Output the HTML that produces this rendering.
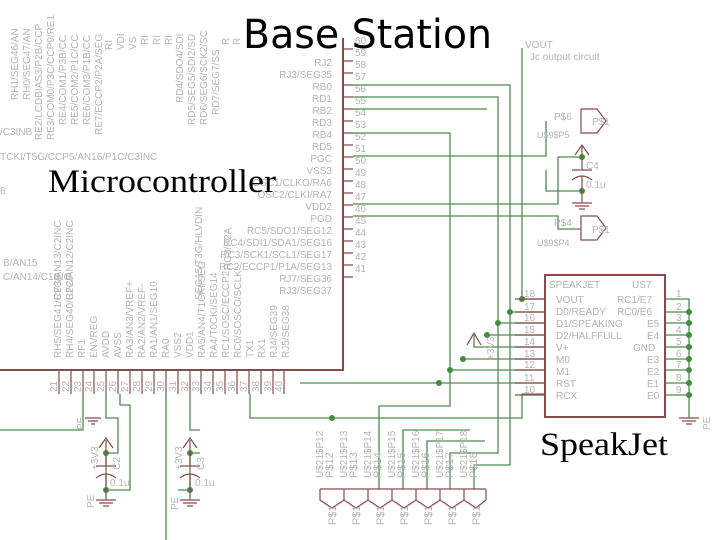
<!DOCTYPE html>
<html><head><meta charset="utf-8"><style>
html,body{margin:0;padding:0;background:#fff;}
svg{display:block;}
.g{fill:#b4b4b4;font-family:"Liberation Sans",sans-serif;font-size:10px;}
.w{stroke:#4f8a4f;stroke-width:1.3;fill:none;}
.r{stroke:#8a4a4a;stroke-width:2;fill:none;}
.p{stroke:#8a4a4a;stroke-width:1.2;fill:none;}
.d{fill:#3f8f3f;}
</style></head><body>
<svg width="720" height="540" viewBox="0 0 720 540" xmlns="http://www.w3.org/2000/svg">
<!-- MCU box -->
<path class="r" d="M343,38 V370 H0"/>
<!-- right pins 60..41 -->
<g class="p">
<path d="M343,49H353M343,61H353M343,73H353M343,85H353M343,97H353M343,109H353M343,121H353M343,133H353M343,145H353M343,157H353M343,169H353M343,181H353M343,193H353M343,205H353M343,217H353M343,229H353M343,241H353M343,253H353M343,265H353M343,277H353"/>
</g>
<g class="g" font-size="10">
<text x="355" y="44">60</text><text x="355" y="56">59</text><text x="355" y="68">58</text><text x="355" y="80">57</text><text x="355" y="92">56</text><text x="355" y="104">55</text><text x="355" y="116">54</text><text x="355" y="128">53</text><text x="355" y="140">52</text><text x="355" y="152">51</text><text x="355" y="164">50</text><text x="355" y="176">49</text><text x="355" y="188">48</text><text x="355" y="200">47</text><text x="355" y="212">46</text><text x="355" y="224">45</text><text x="355" y="236">44</text><text x="355" y="248">43</text><text x="355" y="260">42</text><text x="355" y="272">41</text>
</g>
<g class="g" text-anchor="end" font-size="11">
<text x="332" y="66">RJ2</text><text x="332" y="78">RJ3/SEG35</text><text x="332" y="90">RB0</text><text x="332" y="102">RD1</text><text x="332" y="114">RB2</text><text x="332" y="126">RD3</text><text x="332" y="138">RB4</text><text x="332" y="150">RD5</text><text x="332" y="162">PGC</text><text x="332" y="174">VSS3</text><text x="332" y="186">OSC1/CLKO/RA6</text><text x="332" y="198">OSC2/CLKI/RA7</text><text x="332" y="210">VDD2</text><text x="332" y="222">PGD</text><text x="332" y="234">RC5/SDO1/SEG12</text><text x="332" y="246">RC4/SDI1/SDA1/SEG16</text><text x="332" y="258">RC3/SCK1/SCL1/SEG17</text><text x="332" y="270">RC2/ECCP1/P1A/SEG13</text><text x="332" y="282">RJ7/SEG36</text><text x="332" y="294">RJ3/SEG37</text>
</g>
<!-- left side labels -->
<g class="g" font-size="11">
<text x="0" y="135">/C3INB</text>
<text x="0" y="160">TCKI/T5G/CCP5/AN16/P1C/C3INC</text>
<text x="0" y="194">6</text>
<text x="3" y="266">B/AN15</text>
<text x="3" y="280">C/AN14/C1INC</text>
</g>
<!-- top rotated labels -->
<g class="g" font-size="10">
<text transform="translate(18,100) rotate(-90)">RH1/SEG46/AN</text>
<text transform="translate(30,100) rotate(-90)">RH0/SEG47/AN</text>
<text transform="translate(42,140) rotate(-90)">RE2/LCDBIAS3/P2B/CCP</text>
<text transform="translate(54,140) rotate(-90)">RE3/COM0/P3C/CCP9/RE1</text>
<text transform="translate(66,125) rotate(-90)">RE4/COM1/P3B/CC</text>
<text transform="translate(78,125) rotate(-90)">RE5/COM2/P1C/CC</text>
<text transform="translate(90,125) rotate(-90)">RE6/COM3/P1B/CC</text>
<text transform="translate(102,135) rotate(-90)">RE7/ECCP2/P2A/SEG</text>
<text transform="translate(112,50) rotate(-90)">RI</text>
<text transform="translate(124,50) rotate(-90)">VDI</text>
<text transform="translate(136,50) rotate(-90)">VS</text>
<text transform="translate(148,45) rotate(-90)">RI</text>
<text transform="translate(160,45) rotate(-90)">RI</text>
<text transform="translate(172,45) rotate(-90)">RI</text>
<text transform="translate(183,103) rotate(-90)">RD4/SDO4/SDI</text>
<text transform="translate(195,125) rotate(-90)">RD5/SEG5/SDI2/SD</text>
<text transform="translate(207,125) rotate(-90)">RD6/SEG6/SCK2/SC</text>
<text transform="translate(219,115) rotate(-90)">RD7/SEG7/SS</text>
<text transform="translate(229,45) rotate(-90)">R</text>
<text transform="translate(240,45) rotate(-90)">R</text>
<text transform="translate(61,300) rotate(-90)">RF3/AN13/C2INC</text>
<text transform="translate(73,300) rotate(-90)">RF2/AN12/C2INC</text>
<text transform="translate(202,300) rotate(-90)">SEG15/T3G/HLVDIN</text>
<text transform="translate(231,270) rotate(-90)">RG3/P2A</text>
</g>
<!-- bottom pins -->
<g class="p">
<path d="M59,370V394M71,370V394M83,370V394M94,370V394M106,370V394M118,370V394M130,370V394M142,370V394M154,370V394M166,370V394M178,370V394M190,370V394M201,370V394M213,370V394M225,370V394M237,370V394M249,370V394M261,370V394M273,370V394M284,370V394"/>
</g>
<g class="g" font-size="10">
<text transform="translate(57,392) rotate(-90)">21</text><text transform="translate(69,392) rotate(-90)">22</text><text transform="translate(81,392) rotate(-90)">23</text><text transform="translate(92,392) rotate(-90)">24</text><text transform="translate(104,392) rotate(-90)">25</text><text transform="translate(116,392) rotate(-90)">26</text><text transform="translate(128,392) rotate(-90)">27</text><text transform="translate(140,392) rotate(-90)">28</text><text transform="translate(152,392) rotate(-90)">29</text><text transform="translate(164,392) rotate(-90)">30</text><text transform="translate(176,392) rotate(-90)">31</text><text transform="translate(188,392) rotate(-90)">32</text><text transform="translate(199,392) rotate(-90)">33</text><text transform="translate(211,392) rotate(-90)">34</text><text transform="translate(223,392) rotate(-90)">35</text><text transform="translate(235,392) rotate(-90)">36</text><text transform="translate(247,392) rotate(-90)">37</text><text transform="translate(259,392) rotate(-90)">38</text><text transform="translate(271,392) rotate(-90)">39</text><text transform="translate(282,392) rotate(-90)">40</text>
</g>
<g class="g" font-size="10">
<text transform="translate(61,358) rotate(-90)">RH5/SEG41/C2CF</text>
<text transform="translate(73,358) rotate(-90)">RH4/SEG40/C2CF</text>
<text transform="translate(85,358) rotate(-90)">RF1</text>
<text transform="translate(97,358) rotate(-90)">ENVREG</text>
<text transform="translate(109,358) rotate(-90)">AVDD</text>
<text transform="translate(121,358) rotate(-90)">AVSS</text>
<text transform="translate(133,358) rotate(-90)">RA3/AN3/VREF+</text>
<text transform="translate(145,358) rotate(-90)">RA2/AN2/VREF-</text>
<text transform="translate(157,358) rotate(-90)">RA1/AN1/SEG10</text>
<text transform="translate(169,358) rotate(-90)">RA0</text>
<text transform="translate(181,358) rotate(-90)">VSS2</text>
<text transform="translate(193,358) rotate(-90)">VDD1</text>
<text transform="translate(205,358) rotate(-90)">RA5/AN4/T1CKI/SEG</text>
<text transform="translate(217,358) rotate(-90)">RA4/T0CKI/SEG14</text>
<text transform="translate(229,358) rotate(-90)">RC1/SOSC/ECCP2</text>
<text transform="translate(241,358) rotate(-90)">RC0/SOSCO/SCLK</text>
<text transform="translate(253,358) rotate(-90)">TX1</text>
<text transform="translate(265,358) rotate(-90)">RX1</text>
<text transform="translate(277,358) rotate(-90)">RJ4/SEG39</text>
<text transform="translate(289,358) rotate(-90)">RJ5/SEG38</text>
</g>
<!-- green wires -->
<g class="w">
<path d="M83,394V430H0"/>
<path d="M106,394V418H118V453H106"/>
<path d="M120,394V405H130V490H106"/>
<path d="M166,394V540"/>
<path d="M190,394V430H200"/>
<path d="M190,453H200M178,490H190"/>
<path d="M250,394V418H522V394H545"/>
<path d="M353,85H510V465H474V489"/>
<path d="M353,97H498V453H450V489"/>
<path d="M353,109H487"/>
<path d="M353,133H450V406H379V489"/>
<path d="M522,48V299H545"/>
<path d="M353,156H546V121"/>
<path d="M546,170V191H582"/>
<path d="M353,204H558V157H582"/>
<path d="M353,216H558V229H581"/>
<path d="M510,312H545M498,323H545M487,335H545M474,335V347H545M463,359H545M450,370H545M300,383H545"/>
<path d="M403,489V430H470M427,489V441H485"/>
<path d="M665,299H689V418M665,312H689M665,323H689M665,335H689M665,347H689M665,359H689M665,370H689M665,383H689M665,395H689"/>
<path d="M106,453V490M190,453V490"/>
</g>
<g class="d">
<circle cx="106" cy="453" r="3"/><circle cx="106" cy="490" r="3"/>
<circle cx="190" cy="453" r="3"/><circle cx="190" cy="490" r="3"/>
<circle cx="332" cy="418" r="3"/>
<circle cx="582" cy="157" r="3"/><circle cx="582" cy="191" r="3"/>
<circle cx="522" cy="299" r="3"/><circle cx="510" cy="312" r="3"/><circle cx="498" cy="323" r="3"/><circle cx="487" cy="335" r="3"/><circle cx="463" cy="359" r="3"/><circle cx="450" cy="370" r="3"/><circle cx="439" cy="383" r="3"/>
<circle cx="689" cy="312" r="3"/><circle cx="689" cy="323" r="3"/><circle cx="689" cy="335" r="3"/><circle cx="689" cy="347" r="3"/><circle cx="689" cy="359" r="3"/><circle cx="689" cy="370" r="3"/><circle cx="689" cy="383" r="3"/><circle cx="689" cy="395" r="3"/>
</g>
<!-- capacitors, supply arrows, grounds -->
<g class="p" stroke-width="2">
<path d="M106,440V466M96,466H116M96,478Q106,470 116,478M106,474V500M96,500H116M99,503H113M103,506H109"/>
<path d="M99,448L106,438L113,448"/>
<path d="M190,440V466M180,466H200M180,478Q190,470 200,478M190,474V500M180,500H200M183,503H197M187,506H193"/>
<path d="M183,448L190,438L197,448"/>
<path d="M85,418H101M88,421H98M91,424H95"/>
<path d="M582,145V170M572,170H592M572,180Q582,172 592,180M582,176V203M572,203H592M575,206H589M579,209H585"/>
<path d="M575,155L582,145L589,155"/>
<path d="M467,345L474,333L481,345"/>
<path d="M679,418H699M682,421H696M686,424H692"/>
<path d="M581,109H597L606,121L597,133H581Z"/>
<path d="M581,216H597L606,228L597,240H581Z"/>
</g>
<g class="g" font-size="11">
<text x="586" y="169">C4</text><text x="586" y="188">0.1u</text>
<text x="554" y="120">P$6</text><text x="537" y="138" font-size="9">U$9$P5</text>
<text x="554" y="226">P$4</text><text x="537" y="246" font-size="9">U$9$P4</text>
<text x="592" y="125">P$1</text><text x="592" y="233">P$1</text>
<text x="525" y="48">VOUT</text><text x="530" y="60">Jc output circuit</text>
<text transform="translate(120,470) rotate(-90)">C2</text><text x="110" y="486">0.1u</text>
<text transform="translate(204,470) rotate(-90)">C3</text><text x="195" y="486">0.1u</text>
<text transform="translate(98,470) rotate(-90)">+3V3</text>
<text transform="translate(182,470) rotate(-90)">+3V3</text>
<text transform="translate(84,430) rotate(-90)">PE</text>
<text transform="translate(94,508) rotate(-90)">PE</text>
<text transform="translate(178,510) rotate(-90)">PE</text>
<text transform="translate(494,360) rotate(-90)">+3V3</text>
<text transform="translate(710,430) rotate(-90)">PE</text>
</g>
<!-- SpeakJet -->
<rect x="545" y="275" width="120" height="142" class="r"/>
<g class="p"><path d="M515,299H545M515,312H545M515,323H545M515,335H545M515,347H545M515,359H545M515,370H545M515,383H545M515,395H545"/></g>
<g class="g" font-size="11">
<text x="549" y="288">SPEAKJET</text><text x="632" y="288">US7</text>
<text x="556" y="303">VOUT</text><text x="617" y="303">RC1/E7</text>
<text x="556" y="315">D0/READY</text><text x="617" y="315">RC0/E6</text>
<text x="556" y="327">D1/SPEAKING</text><text x="647" y="327">E5</text>
<text x="556" y="339">D2/HALFFULL</text><text x="647" y="339">E4</text>
<text x="556" y="351">V+</text><text x="633" y="351">GND</text>
<text x="556" y="363">M0</text><text x="647" y="363">E3</text>
<text x="556" y="375">M1</text><text x="647" y="375">E2</text>
<text x="556" y="387">RST</text><text x="647" y="387">E1</text>
<text x="556" y="399">RCX</text><text x="647" y="399">E0</text>
<text x="524" y="297">18</text><text x="524" y="310">17</text><text x="524" y="321">16</text><text x="524" y="333">15</text><text x="524" y="345">14</text><text x="524" y="357">13</text><text x="524" y="368">12</text><text x="524" y="381">11</text><text x="524" y="393">10</text>
<text x="676" y="297">1</text><text x="676" y="310">2</text><text x="676" y="321">3</text><text x="676" y="333">4</text><text x="676" y="345">5</text><text x="676" y="357">6</text><text x="676" y="368">7</text><text x="676" y="381">8</text><text x="676" y="393">9</text>
</g>
<!-- bottom connectors -->
<g class="p" stroke-width="1.8">
<path d="M320,489H486M320,489V500L332,508L344,500V489M344,500L356,508L368,500V489M368,500L380,508L392,500V489M392,500L404,508L416,500V489M416,500L428,508L440,500V489M440,500L452,508L464,500V489M464,500L476,508L486,500V489"/>
</g>
<g class="g" font-size="9">
<text transform="translate(323,478) rotate(-90)">U$21$P12</text><text transform="translate(333,478) rotate(-90)" font-size="11">P$12</text>
<text transform="translate(347,478) rotate(-90)">U$21$P13</text><text transform="translate(357,478) rotate(-90)" font-size="11">P$13</text>
<text transform="translate(371,478) rotate(-90)">U$21$P14</text><text transform="translate(381,478) rotate(-90)" font-size="11">P$14</text>
<text transform="translate(395,478) rotate(-90)">U$21$P15</text><text transform="translate(405,478) rotate(-90)" font-size="11">P$15</text>
<text transform="translate(419,478) rotate(-90)">U$21$P16</text><text transform="translate(429,478) rotate(-90)" font-size="11">P$16</text>
<text transform="translate(443,478) rotate(-90)">U$21$P17</text><text transform="translate(453,478) rotate(-90)" font-size="11">P$17</text>
<text transform="translate(467,478) rotate(-90)">U$21$P18</text><text transform="translate(477,478) rotate(-90)" font-size="11">P$18</text>
<text transform="translate(336,525) rotate(-90)" font-size="11">P$1</text><text transform="translate(360,525) rotate(-90)" font-size="11">P$1</text><text transform="translate(384,525) rotate(-90)" font-size="11">P$1</text><text transform="translate(408,525) rotate(-90)" font-size="11">P$1</text><text transform="translate(432,525) rotate(-90)" font-size="11">P$1</text><text transform="translate(456,525) rotate(-90)" font-size="11">P$1</text><text transform="translate(480,525) rotate(-90)" font-size="11">P$1</text>
</g>
<!-- titles -->
<text x="243" y="48" font-family="'DejaVu Sans',sans-serif" font-size="40" fill="#000" textLength="249" lengthAdjust="spacingAndGlyphs">Base Station</text>
<text x="48" y="192" font-family="'Liberation Serif',serif" font-size="33" fill="#000" textLength="228" lengthAdjust="spacingAndGlyphs">Microcontroller</text>
<text x="540" y="455" font-family="'Liberation Serif',serif" font-size="33" fill="#000" textLength="128" lengthAdjust="spacingAndGlyphs">SpeakJet</text>
</svg>
</body></html>
